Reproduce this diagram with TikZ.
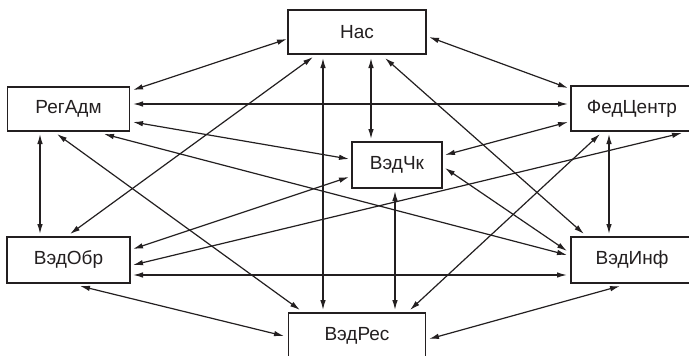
\documentclass[tikz,border=0pt]{standalone}
\usepackage{fontspec}
\setmainfont{Liberation Sans}
\usetikzlibrary{arrows.meta}
\definecolor{ink}{HTML}{231F20}
\begin{document}
\begin{tikzpicture}[x=1pt,y=-1pt,
  box/.style={draw=ink,line width=1.6pt,fill=white,inner sep=0pt,font=\fontsize{19}{22}\selectfont,text=ink},
  conn/.style={draw=ink,line width=1.2pt,{Latex[length=10pt,width=5.5pt]}-{Latex[length=10pt,width=5.5pt]}}]
\useasboundingbox (0,0) rectangle (689,356);
\clip (0,0) rectangle (689,356);
\fill[white] (0,0) rectangle (689,356);
% nodes
\node[box,minimum width=138pt,minimum height=44pt] (nas) at (357,32) {Нас};
\node[box,minimum width=122pt,minimum height=44pt] (reg) at (68.5,109) {РегАдм};
\node[box,minimum width=122pt,minimum height=45pt] (fed) at (632,108.5) {ФедЦентр};
\node[box,minimum width=90pt,minimum height=46pt] (chk) at (397,165) {ВэдЧк};
\node[box,minimum width=123pt,minimum height=46pt] (obr) at (68.5,260) {ВэдОбр};
\node[box,minimum width=122pt,minimum height=46pt] (inf) at (632,260) {ВэдИнф};
\node[box,minimum width=137pt,minimum height=45pt] (res) at (357,335.5) {ВэдРес};
% connectors
\draw[conn] ([shift={(-70,7)}]nas.center) -- ([shift={(64.5,-19)}]reg.center);
\draw[conn] ([shift={(72,5)}]nas.center) -- ([shift={(-64,-20.5)}]fed.center);
\draw[conn] ([shift={(14,26)}]nas.center) -- ([shift={(-26,-26)}]chk.center);
\draw[conn] ([shift={(28,26)}]nas.center) -- ([shift={(-48,-26)}]inf.center);
\draw[conn] ([shift={(-34,26)}]nas.center) -- ([shift={(-34,-25.5)}]res.center);
\draw[conn] ([shift={(-44,25)}]nas.center) -- ([shift={(1.5,-26)}]obr.center);
\draw[conn] ([shift={(64.5,-5)}]reg.center) -- ([shift={(-64,-4.5)}]fed.center);
\draw[conn] ([shift={(64.5,13)}]reg.center) -- ([shift={(-48,-6)}]chk.center);
\draw[conn] ([shift={(-28.5,25)}]reg.center) -- ([shift={(-28.5,-26)}]obr.center);
\draw[conn] ([shift={(-11.5,25)}]reg.center) -- ([shift={(-57,-25.5)}]res.center);
\draw[conn] ([shift={(35.5,25)}]reg.center) -- ([shift={(-65,-5)}]inf.center);
\draw[conn] ([shift={(-64,13.5)}]fed.center) -- ([shift={(48,-10)}]chk.center);
\draw[conn] ([shift={(50,24.5)}]fed.center) -- ([shift={(64.5,5)}]obr.center);
\draw[conn] ([shift={(-32,25.5)}]fed.center) -- ([shift={(53,-25.5)}]res.center);
\draw[conn] ([shift={(-23,25.5)}]fed.center) -- ([shift={(-23,-26)}]inf.center);
\draw[conn] ([shift={(-48,12)}]chk.center) -- ([shift={(64.5,-11)}]obr.center);
\draw[conn] ([shift={(48,3)}]chk.center) -- ([shift={(-65,-9)}]inf.center);
\draw[conn] ([shift={(-2,26)}]chk.center) -- ([shift={(38,-25.5)}]res.center);
\draw[conn] ([shift={(64.5,15)}]obr.center) -- ([shift={(-65,15)}]inf.center);
\draw[conn] ([shift={(11.5,26)}]obr.center) -- ([shift={(-73,0.5)}]res.center);
\draw[conn] ([shift={(-12,26)}]inf.center) -- ([shift={(72,3.5)}]res.center);
\end{tikzpicture}
\end{document}
